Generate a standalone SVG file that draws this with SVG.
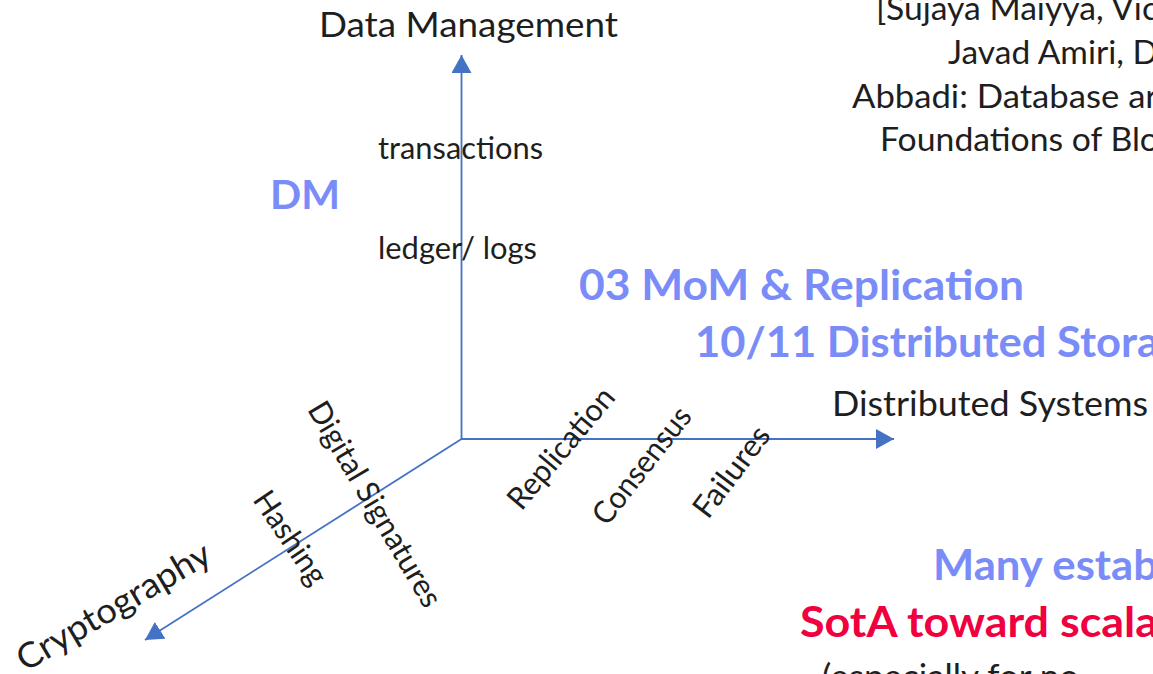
<svg xmlns="http://www.w3.org/2000/svg" width="1153" height="674" viewBox="0 0 1153 674">
<style>
.t{font-family:Lato,"Liberation Sans",sans-serif;fill:#1e1e1e}
.b{font-family:Lato,"Liberation Sans",sans-serif;font-weight:bold}
.blue{fill:#7A8CF8}
.red{fill:#F0003F}
.axis{stroke:#4472C4;stroke-width:1.8;fill:none}
</style>
<defs>
<marker id="arr" viewBox="0 0 18 20" refX="18" refY="10" markerWidth="18" markerHeight="20" markerUnits="userSpaceOnUse" orient="auto">
<path d="M0,0 L18,10 L0,20 z" fill="#4472C4"/>
</marker>
</defs>
<rect width="1153" height="674" fill="#ffffff"/>
<g id="connectors">
<line class="axis" x1="461.5" y1="439" x2="461.5" y2="55" marker-end="url(#arr)"/>
<line class="axis" x1="461" y1="439" x2="894" y2="439" marker-end="url(#arr)"/>
<line class="axis" x1="461.5" y1="439" x2="145" y2="640" marker-end="url(#arr)"/>
</g>
<g id="axis-dm"><text class="t" x="319" y="37" font-size="35" textLength="299" lengthAdjust="spacingAndGlyphs">Data Management</text></g>
<g id="axis-ds"><text class="t" x="832" y="416" font-size="35" textLength="316" lengthAdjust="spacingAndGlyphs">Distributed Systems</text></g>
<g id="axis-crypto"><text class="t" transform="translate(115,609) rotate(-30.5)" x="0" y="9" font-size="35" text-anchor="middle" textLength="219" lengthAdjust="spacingAndGlyphs">Cryptography</text></g>
<g id="reference">
<text class="t" x="876" y="20" font-size="33" textLength="282" lengthAdjust="spacingAndGlyphs">[Sujaya Maiyya, Vic</text>
<text class="t" x="948" y="64" font-size="33" textLength="210" lengthAdjust="spacingAndGlyphs">Javad Amiri, D</text>
<text class="t" x="852" y="108" font-size="33" textLength="306" lengthAdjust="spacingAndGlyphs">Abbadi: Database ar</text>
<text class="t" x="880" y="151" font-size="33" textLength="279" lengthAdjust="spacingAndGlyphs">Foundations of Blo</text>
</g>
<g id="label-transactions"><text class="t" x="378" y="159" font-size="30" textLength="165" lengthAdjust="spacingAndGlyphs">transactions</text></g>
<g id="label-ledger"><text class="t" x="378" y="259" font-size="30" textLength="159" lengthAdjust="spacingAndGlyphs">ledger/ logs</text></g>
<g id="label-dm"><text class="b blue" x="270" y="209" font-size="41" textLength="70" lengthAdjust="spacingAndGlyphs">DM</text></g>
<g id="label-mom"><text class="b blue" x="579" y="300" font-size="42" textLength="445" lengthAdjust="spacingAndGlyphs">03 MoM &amp; Replication</text></g>
<g id="label-storage"><text class="b blue" x="695" y="357" font-size="42" textLength="464" lengthAdjust="spacingAndGlyphs">10/11 Distributed Stora</text></g>
<g id="label-replication"><text class="t" transform="translate(569,455) rotate(-50)" x="0" y="0" font-size="31" text-anchor="middle" textLength="148" lengthAdjust="spacingAndGlyphs">Replication</text></g>
<g id="label-consensus"><text class="t" transform="translate(650,472) rotate(-52)" x="0" y="0" font-size="31" text-anchor="middle" textLength="140" lengthAdjust="spacingAndGlyphs">Consensus</text></g>
<g id="label-failures"><text class="t" transform="translate(740,478) rotate(-53)" x="0" y="0" font-size="31" text-anchor="middle" textLength="106" lengthAdjust="spacingAndGlyphs">Failures</text></g>
<g id="label-digsig"><text class="t" transform="translate(374.5,504.5) rotate(59.5)" x="0" y="10" font-size="31" text-anchor="middle" textLength="233" lengthAdjust="spacingAndGlyphs">Digital Signatures</text></g>
<g id="label-hashing"><text class="t" transform="translate(290,538) rotate(56)" x="0" y="10" font-size="31" text-anchor="middle" textLength="106" lengthAdjust="spacingAndGlyphs">Hashing</text></g>
<g id="note">
<text class="b blue" x="933" y="580" font-size="42" textLength="225" lengthAdjust="spacingAndGlyphs">Many estab</text>
<text class="b red" x="800" y="637" font-size="42" textLength="358" lengthAdjust="spacingAndGlyphs">SotA toward scala</text>
<text class="t" x="822" y="689" font-size="35">(especially for no</text>
</g>
</svg>
